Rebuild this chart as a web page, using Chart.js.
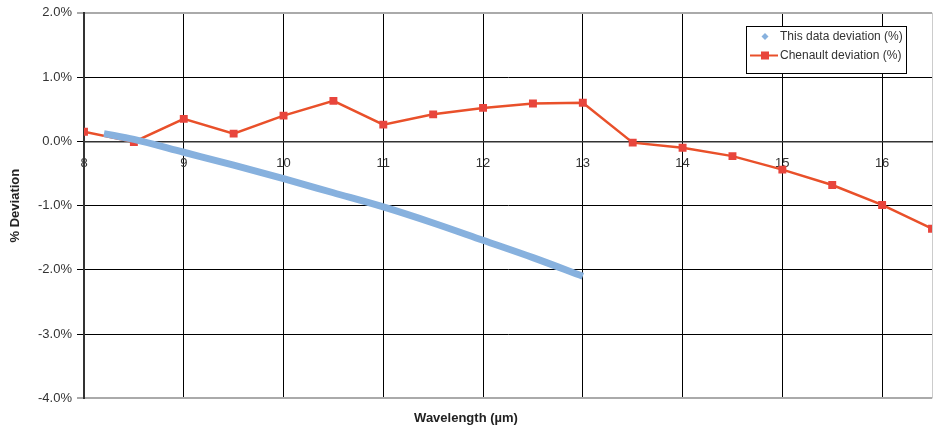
<!DOCTYPE html>
<html>
<head>
<meta charset="utf-8">
<script src="https://cdn.jsdelivr.net/npm/chart.js@4.4.1/dist/chart.umd.min.js"></script>
<style>
  html, body { margin: 0; padding: 0; background: #fff; }
  #wrap { width: 933px; height: 431px; }
</style>
</head>
<body>
<div id="wrap"><canvas id="chart"></canvas></div>
<script>
// données
const thisWavelength = [8.2, 8.5, 9, 9.5, 10, 10.5, 11, 11.5, 12, 12.5, 13]
const thisDeviation = [0.12, 0.03, -0.17, -0.37, -0.58, -0.80, -1.02, -1.27, -1.54, -1.81, -2.10]

const chenaultWavelength = [8, 8.5, 9, 9.5, 10, 10.5, 11, 11.5, 12, 12.5, 13, 13.5, 14, 14.5, 15, 15.5, 16, 16.5]
const chenaultDeviation = [0.15, -0.01, 0.35, 0.12, 0.40, 0.63, 0.26, 0.42, 0.52, 0.59, 0.60, -0.02, -0.10, -0.23, -0.44, -0.68, -0.99, -1.36]

const xTicks = [8, 9, 10, 11, 12, 13, 14, 15, 16]
const seriesLabels = ['This data deviation (%)', 'Chenault deviation (%)']

const BLUE = '#87b1de'
const RED_LINE = '#e9502a'
const RED_MARK = '#e8453c'
const FONT = '"Liberation Sans", Arial, sans-serif'

function toPoints( xs, ys ) {
    return xs.map( ( x, i ) => ( { x: x, y: ys[ i ] } ) )
}

/** Légende dessinée à la main (encadrée, en haut à droite de la zone du graphe) */
const boxedLegend = {
    id: 'boxedLegend',
    afterDraw( chart ) {
        const ctx = chart.ctx
        const area = chart.chartArea
        const labels = chart.data.datasets.map( ds => ds.label )
        ctx.save()
        ctx.font = '12px ' + FONT
        let textW = 0
        labels.forEach( t => { textW = Math.max( textW, ctx.measureText( t ).width ) } )
        const iconW = 34
        const w = Math.round( iconW + textW + 3 )
        const h = 47
        const right = Math.round( area.right ) - 26
        const left = right - w
        const top = Math.round( area.top ) + 13

        ctx.fillStyle = '#fff'
        ctx.fillRect( left, top, w, h )
        ctx.strokeStyle = '#000'
        ctx.lineWidth = 1
        ctx.strokeRect( left + 0.5, top + 0.5, w, h )

        const rows = [ top + 10.5, top + 29.5 ]
        // losange bleu
        ctx.fillStyle = BLUE
        ctx.beginPath()
        const cx = left + 19
        ctx.moveTo( cx, rows[ 0 ] - 3.5 ); ctx.lineTo( cx + 3.5, rows[ 0 ] ); ctx.lineTo( cx, rows[ 0 ] + 3.5 ); ctx.lineTo( cx - 3.5, rows[ 0 ] )
        ctx.closePath()
        ctx.fill()
        // trait + carré rouge
        ctx.strokeStyle = RED_LINE
        ctx.lineWidth = 2
        ctx.beginPath()
        ctx.moveTo( left + 4, rows[ 1 ] ); ctx.lineTo( left + 32, rows[ 1 ] )
        ctx.stroke()
        ctx.fillStyle = RED_MARK
        ctx.fillRect( cx - 4, rows[ 1 ] - 4, 8, 8 )

        ctx.fillStyle = '#333'
        ctx.textBaseline = 'middle'
        ctx.textAlign = 'left'
        labels.forEach( ( t, i ) => ctx.fillText( t, left + iconW, rows[ i ] ) )
        ctx.restore()
    }
}

Chart.defaults.font.family = FONT
Chart.defaults.color = '#333'

new Chart( document.getElementById( 'chart' ), {
    type: 'scatter',
    data: {
        datasets: [
            {
                label: seriesLabels[ 0 ],
                data: toPoints( thisWavelength, thisDeviation ),
                showLine: true,
                borderColor: BLUE,
                backgroundColor: BLUE,
                borderWidth: 7,
                pointRadius: 0,
                cubicInterpolationMode: 'monotone',
                order: 1
            },
            {
                label: seriesLabels[ 1 ],
                data: toPoints( chenaultWavelength, chenaultDeviation ),
                showLine: true,
                borderColor: RED_LINE,
                backgroundColor: RED_MARK,
                borderWidth: 2.5,
                pointStyle: 'rect',
                pointRadius: 5.6,
                pointBorderWidth: 0,
                order: 2
            }
        ]
    },
    options: {
        responsive: true,
        maintainAspectRatio: false,
        animation: false,
        layout: { autoPadding: false, padding: { top: 6, right: 1, bottom: 4, left: 0 } },
        scales: {
            x: {
                type: 'linear',
                min: 8,
                max: 16.5,
                position: { y: 0 },
                afterBuildTicks( scale ) {
                    scale.ticks = xTicks.concat( [ 16.5 ] ).map( v => ( { value: v } ) )
                },
                afterFit( scale ) {
                    // pas de marge latérale réservée aux étiquettes
                    scale.paddingLeft = 0
                    scale.paddingRight = 0
                },
                ticks: {
                    font: { size: 13 },
                    color: '#333',
                    padding: 9,
                    maxRotation: 0,
                    callback: v => ( Number.isInteger( v ) ? String( v ) : '' )
                },
                grid: {
                    color: ctx => ( ctx.tick && ctx.tick.value == 16.5 ? '#ccc' : '#000' ),
                    lineWidth: 1,
                    tickLength: 5
                },
                border: { color: '#333', width: 1.5 }
            },
            y: {
                min: -4,
                max: 2,
                ticks: {
                    stepSize: 1,
                    font: { size: 13 },
                    color: '#333',
                    padding: 5,
                    callback: v => v.toFixed( 1 ) + '%'
                },
                grid: {
                    color: ctx => ( ctx.tick && ( ctx.tick.value == 2 || ctx.tick.value == -4 ) ? '#aaa' : '#000' ),
                    lineWidth: ctx => ( ctx.tick && ( ctx.tick.value == 2 || ctx.tick.value == -4 ) ? 2 : 1 ),
                    tickLength: 7
                },
                border: { color: '#333', width: 2 },
                title: {
                    display: true,
                    text: '% Deviation',
                    font: { size: 13, weight: 'bold' },
                    color: '#222',
                    padding: { top: 8, bottom: 4 }
                },
                afterFit( scale ) {
                    scale.width = 84
                }
            }
        },
        plugins: {
            legend: { display: false },
            title: {
                display: true,
                position: 'bottom',
                text: 'Wavelength (\u00b5m)',
                font: { size: 13, weight: 'bold' },
                color: '#222',
                padding: { top: 12, bottom: 1 }
            },
            tooltip: { enabled: false }
        }
    },
    plugins: [ boxedLegend ]
} )
</script>
</body>
</html>
